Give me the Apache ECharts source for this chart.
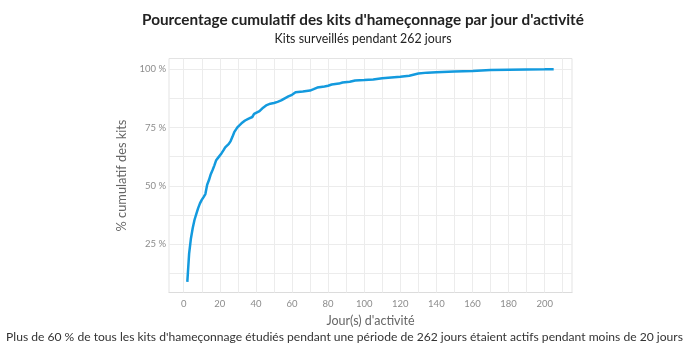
<!DOCTYPE html>
<html>
<head>
<meta charset="utf-8">
<script src="https://cdn.jsdelivr.net/npm/echarts@6/dist/echarts.min.js"></script>
<style>
html, body { margin: 0; padding: 0; background: #fff; }
#chart { width: 689px; height: 351px; }
</style>
</head>
<body>
<div id="chart"></div>
<script>
// jours d'activité
var days = [2, 3, 4, 5, 6, 7, 8, 9, 10, 11, 12, 13, 14, 15, 16, 17, 18, 19, 20,
    21, 22, 23, 24, 25, 26, 27, 28, 29, 30, 31, 32, 34, 36, 37, 38, 39, 40,
    42, 44, 46, 48, 50, 52, 54, 56, 58, 60, 62, 66, 70, 72, 74, 78, 80, 82,
    86, 88, 92, 95, 100, 105, 110, 115, 120, 125, 130, 135, 140, 150, 160,
    161, 170, 180, 190, 200, 205];
// % cumulatif des kits
var cumPct = [8.9, 21, 27.5, 32, 35.5, 38, 40.5, 42.5, 44, 45.2, 46.5, 50.5, 52.5, 55, 56.8, 58.8, 61, 62, 62.5,
    64, 65.2, 66.5, 67, 68, 69.2, 71, 73, 74.2, 75.3, 76.1, 76.8, 78, 78.8, 79, 79.5, 80.8, 81.2,
    82, 83.5, 84.6, 85.2, 85.5, 86, 86.6, 87.5, 88.3, 89, 90.1, 90.4, 90.8, 91.4, 92.1, 92.6, 92.9, 93.4,
    93.8, 94.3, 94.6, 95.1, 95.3, 95.6, 96.1, 96.4, 96.7, 97.2, 98.1, 98.5, 98.7, 99.0, 99.2,
    99.5, 99.6, 99.7, 99.8, 99.9, 100];

// graduations
var xTicks = [0, 20, 40, 60, 80, 100, 120, 140, 160, 180, 200];
var xGrid = [0, 10, 20, 30, 40, 50, 60, 70, 80, 90, 100, 110, 120, 130, 140, 150, 160, 170, 180, 190, 200, 210];
var yTicks = [25, 50, 75, 100];
var yGrid = [12.5, 25, 37.5, 50, 62.5, 75, 87.5, 100];

var titleText = "Pourcentage cumulatif des kits d'hameçonnage par jour d'activité";
var subText = "Kits surveillés pendant 262 jours";
var captionText = "Plus de 60 % de tous les kits d'hameçonnage étudiés pendant une période de 262 jours étaient actifs pendant moins de 20 jours";

var points = days.map(function (d, i) { return [d, cumPct[i]]; });
var gridLines = xGrid.map(function (v) { return {xAxis: v}; })
    .concat(yGrid.map(function (v) { return {yAxis: v}; }));

var chart = echarts.init(document.getElementById('chart'), null, {renderer: 'canvas'});
var option = {
    animation: false,
    title: [
        {
            text: titleText,
            subtext: subText,
            left: 358,
            textAlign: 'center',
            top: 8,
            itemGap: 5,
            textStyle: {fontFamily: 'Lato', fontWeight: 'bold', fontSize: 15.3, color: '#222'},
            subtextStyle: {fontFamily: 'Lato', fontSize: 12.4, color: '#222'}
        },
        {
            text: captionText,
            left: 'center',
            bottom: 3,
            textStyle: {fontFamily: 'Lato', fontWeight: 'normal', fontSize: 12.1, color: '#333'}
        }
    ],
    grid: {left: 169, right: 117, top: 58.5, bottom: 58.5, show: true, borderColor: '#e3e3e3', borderWidth: 1},
    xAxis: {
        type: 'value',
        min: -8.15,
        max: 215.15,
        name: "Jour(s) d'activité",
        nameLocation: 'middle',
        nameGap: 22,
        nameTextStyle: {fontFamily: 'Lato', fontSize: 12.5, color: '#666'},
        axisLine: {show: true, lineStyle: {color: '#dcdcdc'}},
        axisTick: {show: false},
        axisLabel: {
            fontFamily: 'Lato', fontSize: 9.5, color: '#8c8c8c', margin: 6,
            customValues: xTicks
        },
        splitLine: {show: false}
    },
    yAxis: {
        type: 'value',
        min: 4.35,
        max: 104.55,
        name: '% cumulatif des kits',
        nameLocation: 'middle',
        nameGap: 35,
        nameTextStyle: {fontFamily: 'Lato', fontSize: 12.8, color: '#666'},
        axisLine: {show: true, lineStyle: {color: '#dcdcdc'}},
        axisTick: {show: false},
        axisLabel: {
            fontFamily: 'Lato', fontSize: 9.5, color: '#8c8c8c', margin: 3,
            customValues: yTicks,
            formatter: function (v) { return v + ' %'; }
        },
        splitLine: {show: false}
    },
    series: [
        {
            type: 'line',
            data: [],
            z: 1,
            silent: true,
            markLine: {
                z: 1,
                silent: true,
                symbol: 'none',
                label: {show: false},
                lineStyle: {color: '#ececec', width: 1, type: 'solid'},
                emphasis: {disabled: true},
                data: gridLines
            }
        },
        {
            type: 'line',
            data: points,
            z: 3,
            showSymbol: false,
            lineStyle: {color: '#139ade', width: 2.5},
            itemStyle: {color: '#139ade'}
        }
    ]
};
chart.setOption(option);
</script>
</body>
</html>
